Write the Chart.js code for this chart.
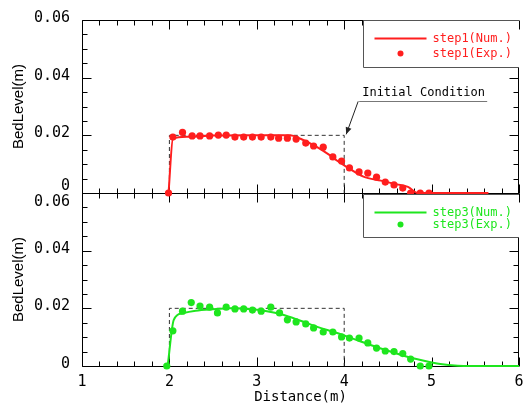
<!DOCTYPE html>
<html lang="en">
<head>
  <meta charset="UTF-8">
  <title>BedLevel</title>
  <script src="https://cdn.jsdelivr.net/npm/chart.js"></script>
  <style>
    html, body { margin: 0; padding: 0; background: #fff; }
  </style>
</head>
<body>
  <canvas id="grafico" width="525" height="410"></canvas>

  <script>
    // step1 - numerico (linha)
    const step1NumX = [1.99, 2.04, 2.2, 2.5, 3.0, 3.38, 3.5, 3.69, 3.83, 3.92, 4.04, 4.22, 4.42, 4.6, 4.73, 4.84, 5.65];
    const step1NumY = [0, 0.0188, 0.0195, 0.0199, 0.0200, 0.0200, 0.0188, 0.0159, 0.0132, 0.0112, 0.0088, 0.0057, 0.0043, 0.0030, 0.0021, 0, 0];

    // step1 - experimental (pontos)
    const step1ExpX = [1.99, 2.04, 2.15, 2.26, 2.35, 2.46, 2.56, 2.65, 2.75, 2.85, 2.95, 3.05, 3.16, 3.25, 3.35, 3.45, 3.56, 3.65, 3.76, 3.87, 3.97, 4.06, 4.17, 4.27, 4.37, 4.47, 4.57, 4.67, 4.76, 4.87, 4.97];
    const step1ExpY = [0, 0.0194, 0.0210, 0.0198, 0.0198, 0.0198, 0.0201, 0.0201, 0.0194, 0.0194, 0.0194, 0.0194, 0.0194, 0.0190, 0.0190, 0.0187, 0.0173, 0.0163, 0.0159, 0.0125, 0.0111, 0.0087, 0.0073, 0.0069, 0.0055, 0.0038, 0.0028, 0.0017, 0, 0, 0];

    // step3 - numerico (linha)
    const step3NumX = [1.98, 2.05, 2.15, 2.3, 2.5, 2.7, 2.9, 3.1, 3.3, 3.5, 3.7, 3.9, 4.1, 4.3, 4.5, 4.7, 4.9, 5.1, 5.3, 5.45, 6.0];
    const step3NumY = [0, 0.0160, 0.0183, 0.0192, 0.0197, 0.0200, 0.0198, 0.0191, 0.0178, 0.0157, 0.0135, 0.0116, 0.0095, 0.0073, 0.0053, 0.0034, 0.0019, 0.0007, 0.0001, 0, 0];

    // step3 - experimental (pontos)
    const step3ExpX = [1.97, 2.04, 2.15, 2.25, 2.35, 2.46, 2.55, 2.65, 2.75, 2.85, 2.95, 3.05, 3.16, 3.26, 3.35, 3.45, 3.56, 3.65, 3.76, 3.87, 3.97, 4.06, 4.17, 4.27, 4.37, 4.47, 4.57, 4.67, 4.76, 4.87, 4.97];
    const step3ExpY = [0, 0.0122, 0.0190, 0.0220, 0.0208, 0.0204, 0.0184, 0.0204, 0.0198, 0.0198, 0.0194, 0.0190, 0.0204, 0.0184, 0.0160, 0.0153, 0.0146, 0.0132, 0.0118, 0.0118, 0.0101, 0.0097, 0.0097, 0.0080, 0.0062, 0.0052, 0.0050, 0.0043, 0.0024, 0, 0];

    // condicao inicial (retangulo tracejado)
    const initX = [2, 2, 4, 4];
    const initY = [0, 0.02, 0.02, 0];

    // eixos
    const xMin = 1, xMax = 6;
    const yMin = 0, yMax = 0.06;
    const annotationText = 'Initial Condition';

    const RED = '#ff1e1e';
    const GREEN = '#1ee61e';
    const MONO = '"DejaVu Sans Mono", monospace';

    const pts = (xs, ys) => xs.map((x, i) => ({ x: x, y: ys[i] }));

    // Moldura com ticks para dentro, nos dois paineis
    const frameTicks = {
      id: 'frameTicks',
      beforeDatasetsDraw(chart) {
        const ctx = chart.ctx;
        const x = chart.scales.x;
        ctx.save();
        ctx.strokeStyle = '#000';
        ctx.lineWidth = 1;
        [chart.scales.yTop, chart.scales.yBot].forEach(ys => {
          const L = Math.round(x.left) + 0.5, R = Math.round(x.right) - 0.5;
          const T = Math.round(ys.top) + 0.5, B = Math.round(ys.bottom) + 0.5;
          ctx.beginPath();
          ctx.rect(L, T, R - L, B - T);
          for (let i = 0; i <= 25; i++) {
            const px = Math.round(x.getPixelForValue(xMin + i * 0.2)) + 0.5;
            const len = i % 5 === 0 ? 9 : 5;
            ctx.moveTo(px, B); ctx.lineTo(px, B - len);
            ctx.moveTo(px, T); ctx.lineTo(px, T + len);
          }
          for (let j = 0; j <= 12; j++) {
            const py = Math.round(ys.getPixelForValue(j * 0.005)) + 0.5;
            const len = j % 4 === 0 ? 9 : 5;
            ctx.moveTo(L, py); ctx.lineTo(L + len, py);
            ctx.moveTo(R, py); ctx.lineTo(R - len, py);
          }
          ctx.stroke();
        });
        ctx.restore();
      },
      afterDraw(chart) {
        const ctx = chart.ctx;
        const x = chart.scales.x;
        const ds = chart.data.datasets;
        // legendas dentro de cada painel
        const boxes = [
          { ys: chart.scales.yTop, dy: 0, h: 47, row1: 18, gap: 15, items: [1, 0] },
          { ys: chart.scales.yBot, dy: 1, h: 43, row1: 18, gap: 12, items: [4, 3] }
        ];
        ctx.save();
        boxes.forEach(b => {
          const left = Math.round(x.right) - 156 + 0.5;
          const top = Math.round(b.ys.top) + b.dy + 0.5;
          ctx.fillStyle = '#fff';
          ctx.fillRect(left, top, x.right - left, b.h);
          ctx.strokeStyle = '#555';
          ctx.lineWidth = 1;
          ctx.beginPath();
          ctx.moveTo(x.right, top);
          ctx.lineTo(left, top);
          ctx.lineTo(left, top + b.h);
          ctx.lineTo(x.right, top + b.h);
          ctx.stroke();
          ctx.font = '12px ' + MONO;
          ctx.textBaseline = 'middle';
          ctx.textAlign = 'left';
          const yNum = top + b.row1, yExp = yNum + b.gap;
          const num = ds[b.items[0]], exp = ds[b.items[1]];
          ctx.strokeStyle = num.borderColor;
          ctx.lineWidth = 2;
          ctx.beginPath();
          ctx.moveTo(left + 11, yNum); ctx.lineTo(left + 63, yNum);
          ctx.stroke();
          ctx.fillStyle = exp.backgroundColor;
          ctx.beginPath();
          ctx.arc(left + 37, yExp, 3, 0, Math.PI * 2);
          ctx.fill();
          ctx.fillStyle = num.borderColor;
          ctx.fillText(num.label, left + 69, yNum);
          ctx.fillStyle = exp.backgroundColor;
          ctx.fillText(exp.label, left + 69, yExp);
        });

        // anotacao "Initial Condition" com seta
        const yt = chart.scales.yTop;
        const tipX = x.getPixelForValue(4) + 2;
        const tipY = yt.getPixelForValue(0.02) - 1;
        const sx = tipX + 12, sy = tipY - 33;
        ctx.strokeStyle = '#222';
        ctx.lineWidth = 1;
        ctx.beginPath();
        ctx.moveTo(sx, sy); ctx.lineTo(tipX, tipY);
        ctx.stroke();
        const ang = Math.atan2(tipY - sy, tipX - sx);
        ctx.fillStyle = '#222';
        ctx.beginPath();
        ctx.moveTo(tipX, tipY);
        ctx.lineTo(tipX - 7 * Math.cos(ang) + 3 * Math.sin(ang), tipY - 7 * Math.sin(ang) - 3 * Math.cos(ang));
        ctx.lineTo(tipX - 7 * Math.cos(ang) - 3 * Math.sin(ang), tipY - 7 * Math.sin(ang) + 3 * Math.cos(ang));
        ctx.closePath();
        ctx.fill();
        ctx.strokeStyle = '#777';
        ctx.beginPath();
        ctx.moveTo(sx + 1, Math.round(sy) + 0.5);
        ctx.lineTo(sx + 129, Math.round(sy) + 0.5);
        ctx.stroke();
        ctx.fillStyle = '#000';
        ctx.font = '12px ' + MONO;
        ctx.textBaseline = 'middle';
        ctx.fillText(annotationText, sx + 4, sy - 8);
        ctx.restore();
      }
    };

    const yTicks = (topPanel) => ({
      stepSize: 0.02,
      padding: 12,
      labelOffset: -2,
      autoSkip: false,
      color: '#000',
      font: { family: MONO, size: 15, lineHeight: topPanel ? '10px' : '22px' },
      callback: function (v) {
        if (topPanel && Math.abs(v) < 1e-9) return ['0', ''];
        if (!topPanel && Math.abs(v - 0.06) < 1e-9) return ['', '0.06'];
        return Math.abs(v) < 1e-9 ? '0' : v.toFixed(2);
      }
    });

    const yTitle = {
      display: true,
      text: 'BedLevel(m)',
      color: '#000',
      font: { family: '"Liberation Sans", sans-serif', size: 15, lineHeight: 1.2 },
      padding: { top: 10, bottom: 0 }
    };

    // largura fixa do eixo y, sem padding extra dos rotulos
    const fixY = s => { s.width = 82; s.paddingTop = 0; s.paddingBottom = 0; };

    const config = {
      type: 'scatter',
      data: {
        datasets: [
          {
            label: 'step1(Exp.)', data: pts(step1ExpX, step1ExpY), yAxisID: 'yTop',
            backgroundColor: RED, borderColor: RED, pointRadius: 3.6, pointBorderWidth: 0,
            showLine: false, clip: false
          },
          {
            label: 'step1(Num.)', data: pts(step1NumX, step1NumY), yAxisID: 'yTop',
            borderColor: RED, backgroundColor: RED, borderWidth: 2, pointRadius: 0,
            showLine: true, cubicInterpolationMode: 'monotone', clip: false
          },
          {
            label: 'init1', data: pts(initX, initY), yAxisID: 'yTop',
            borderColor: '#333', borderWidth: 1, borderDash: [4, 3], pointRadius: 0,
            showLine: true, clip: false
          },
          {
            label: 'step3(Exp.)', data: pts(step3ExpX, step3ExpY), yAxisID: 'yBot',
            backgroundColor: GREEN, borderColor: GREEN, pointRadius: 3.6, pointBorderWidth: 0,
            showLine: false, clip: false
          },
          {
            label: 'step3(Num.)', data: pts(step3NumX, step3NumY), yAxisID: 'yBot',
            borderColor: GREEN, backgroundColor: GREEN, borderWidth: 2, pointRadius: 0,
            showLine: true, cubicInterpolationMode: 'monotone', clip: false
          },
          {
            label: 'init3', data: pts(initX, initY), yAxisID: 'yBot',
            borderColor: '#333', borderWidth: 1, borderDash: [4, 3], pointRadius: 0,
            showLine: true, clip: false
          }
        ]
      },
      options: {
        responsive: false,
        animation: false,
        devicePixelRatio: 1,
        layout: { padding: { top: 20, right: 6, bottom: 0, left: 0 } },
        plugins: {
          legend: { display: false },
          tooltip: { enabled: false }
        },
        scales: {
          x: {
            type: 'linear', min: xMin, max: xMax,
            grid: { display: false, drawTicks: false },
            border: { display: false },
            ticks: { stepSize: 1, padding: 7, color: '#000', font: { family: MONO, size: 15 } },
            title: {
              display: true, text: 'Distance(m)', color: '#000',
              font: { family: MONO, size: 14, lineHeight: 1.2 },
              padding: { top: 0, bottom: 4 }
            },
            afterFit: s => { s.height = 44; s.paddingLeft = 0; s.paddingRight = 0; }
          },
          yBot: {
            type: 'linear', position: 'left', stack: 'bed', stackWeight: 1,
            min: yMin, max: yMax,
            grid: { display: false, drawTicks: false },
            border: { display: false },
            ticks: yTicks(false),
            title: yTitle,
            afterFit: fixY
          },
          yTop: {
            type: 'linear', position: 'left', stack: 'bed', stackWeight: 1,
            min: yMin, max: yMax,
            grid: { display: false, drawTicks: false },
            border: { display: false },
            ticks: yTicks(true),
            title: yTitle,
            afterFit: fixY
          }
        }
      },
      plugins: [frameTicks]
    };

    const ctx = document.getElementById('grafico').getContext('2d');
    new Chart(ctx, config);
  </script>
</body>
</html>
